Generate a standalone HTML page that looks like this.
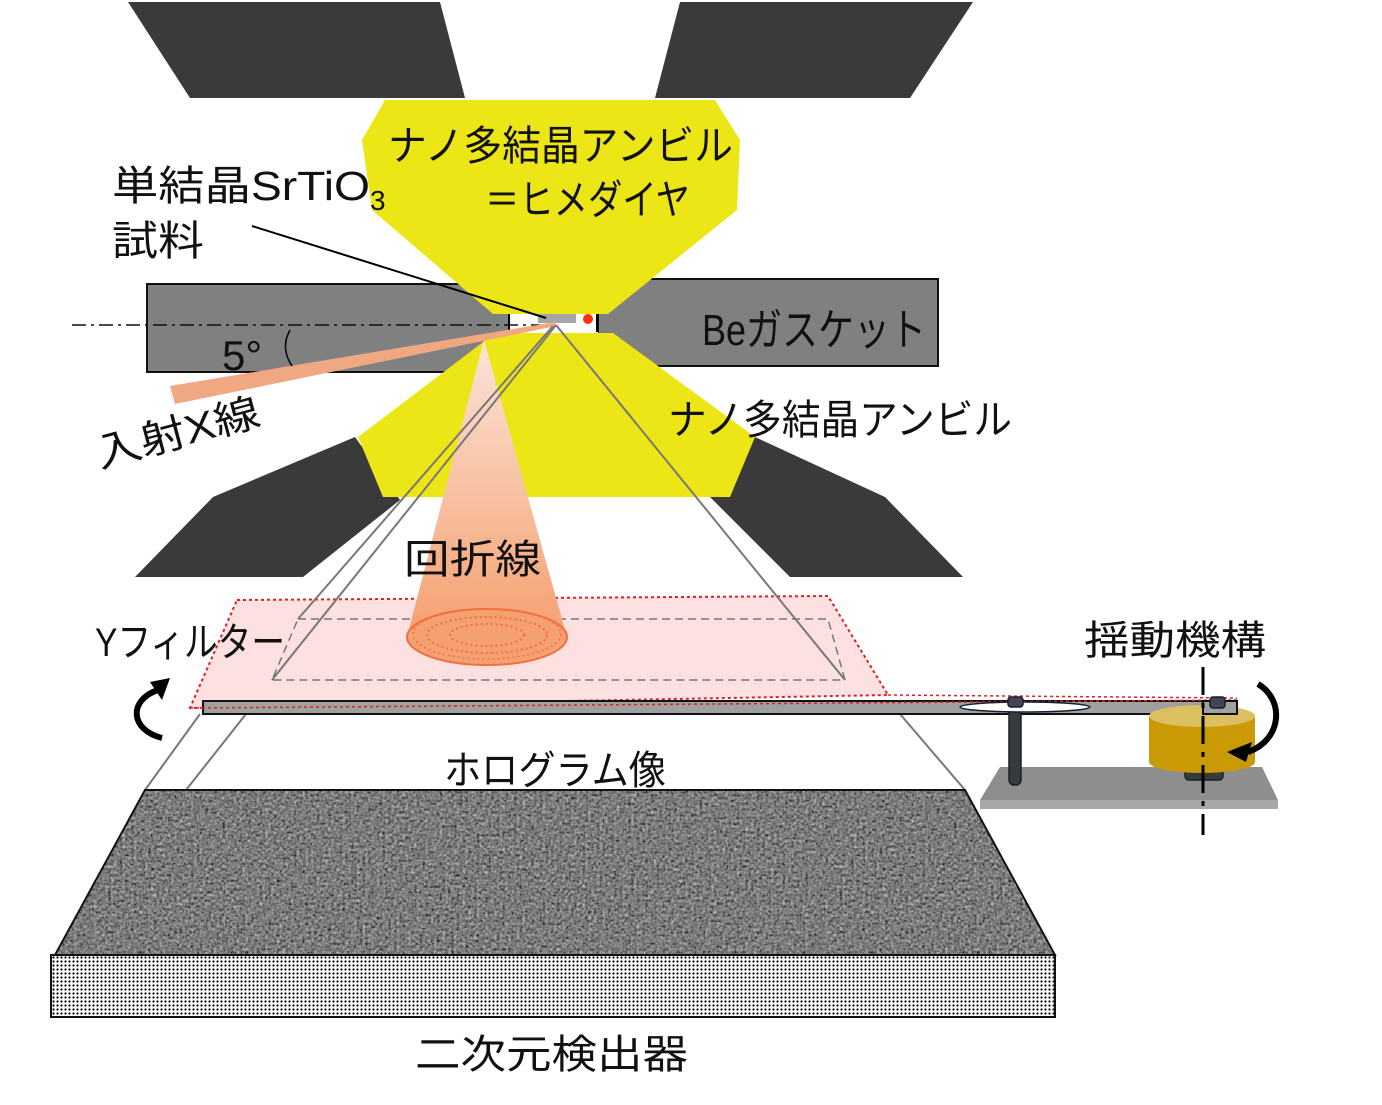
<!DOCTYPE html>
<html><head><meta charset="utf-8"><style>
html,body{margin:0;padding:0;background:#fff}
svg{display:block}
text{font-family:"Liberation Sans","Noto Sans CJK JP",sans-serif;fill:#111}
</style></head><body>
<svg width="1382" height="1105" viewBox="0 0 1382 1105" xmlns="http://www.w3.org/2000/svg">
<defs>
<pattern id="dots" width="4" height="4" patternUnits="userSpaceOnUse"><rect width="4" height="4" fill="#fff"/><circle cx="1.5" cy="1.5" r="1.1" fill="#000"/></pattern>
<filter id="noise" x="0" y="0" width="100%" height="100%"><feTurbulence type="fractalNoise" baseFrequency="0.35" numOctaves="3" seed="3"/><feColorMatrix type="saturate" values="0"/><feComponentTransfer><feFuncR type="linear" slope="1.8" intercept="-0.55"/><feFuncG type="linear" slope="1.8" intercept="-0.55"/><feFuncB type="linear" slope="1.8" intercept="-0.55"/></feComponentTransfer><feComposite in2="SourceGraphic" operator="in"/></filter>
<linearGradient id="cone" x1="0" y1="0" x2="0" y2="1"><stop offset="0" stop-color="#fbe3d8"/><stop offset="1" stop-color="#f5a070"/></linearGradient>
</defs>
<polygon points="128,2 440,2 465,98 190,98" fill="#3a3a3a"/>
<polygon points="680,2 973,2 910,98 655,98" fill="#3a3a3a"/>
<polygon points="213,497 355,437 400,500 303,577 135,577" fill="#3a3a3a"/>
<polygon points="755,437 885,497 963,577 790,577 710,497" fill="#3a3a3a"/>
<rect x="147" y="284" width="363" height="88" fill="#808080" stroke="#111" stroke-width="2"/>
<rect x="598" y="279" width="340" height="87" fill="#808080" stroke="#111" stroke-width="2"/>
<rect x="510" y="313" width="88" height="20" fill="#fff"/>
<line x1="509" y1="314" x2="509" y2="332" stroke="#000" stroke-width="2"/>
<line x1="597" y1="314" x2="597" y2="332" stroke="#000" stroke-width="2"/>
<polygon points="385,100 715,100 740,140 737,210 608,314 493,314 372,210 362,140" fill="#ede616"/>
<polygon points="495,333 613,333 755,437 730,497 383,497 358,437" fill="#ede616"/>
<rect x="538" y="314" width="38" height="9" fill="#a6a6a6"/>
<circle cx="588" cy="319" r="5" fill="#ff3300"/>
<line x1="72" y1="325" x2="540" y2="325" stroke="#111" stroke-width="1.5" stroke-dasharray="14,5,3,5"/>
<polygon points="170,386 175,404 556,326 555,322" fill="#f0a882"/>
<polygon points="237,600 828,596 888,695 190,708" fill="#fde0e0"/>
<polygon points="237,600 828,596 888,695 190,708" fill="none" stroke="#e02020" stroke-width="2" stroke-dasharray="3,3"/>
<polygon points="298,619 828,619 845,680 272,680" fill="none" stroke="#777" stroke-width="1.5" stroke-dasharray="8,5"/>
<polygon points="484,340 407,637 567,637" fill="url(#cone)"/>
<ellipse cx="487" cy="637" rx="80" ry="28" fill="#f5a070" stroke="#f07040" stroke-width="2"/>
<ellipse cx="487" cy="635" rx="60" ry="18" fill="none" stroke="#f07040" stroke-width="2" stroke-dasharray="2,3"/>
<ellipse cx="487" cy="635" rx="37" ry="11" fill="none" stroke="#f07040" stroke-width="2" stroke-dasharray="2,3"/>
<ellipse cx="487" cy="634" rx="74" ry="25" fill="none" stroke="#f07040" stroke-width="1.5" stroke-dasharray="2,3"/>
<g stroke="#777" stroke-width="2" fill="none">
<line x1="556" y1="325" x2="272" y2="680"/>
<line x1="553" y1="326" x2="298" y2="619"/>
<line x1="556" y1="325" x2="845" y2="680"/>
<line x1="246" y1="714" x2="186" y2="790"/>
<line x1="200" y1="714" x2="145" y2="790"/>
<line x1="900" y1="714" x2="965" y2="790"/>
</g>
<line x1="252" y1="226" x2="546" y2="318" stroke="#000" stroke-width="2"/>
<rect x="203" y="701" width="1034" height="13" fill="#a0a0a0" stroke="#111" stroke-width="2"/>
<line x1="190" y1="708" x2="1237" y2="700" stroke="#e02020" stroke-width="1.5" stroke-dasharray="3,3"/>
<line x1="888" y1="695" x2="1237" y2="698" stroke="#e02020" stroke-width="1.5" stroke-dasharray="3,3"/>
<polygon points="145,790 965,790 1055,955 55,955" fill="#5a5a5a"/>
<polygon points="145,790 965,790 1055,955 55,955" fill="#888" filter="url(#noise)"/>
<polygon points="145,790 965,790 1055,955 55,955" fill="none" stroke="#111" stroke-width="2"/>
<rect x="51" y="955" width="1004" height="62" fill="url(#dots)" stroke="#111" stroke-width="2"/>
<polygon points="1000,767 1262,767 1278,800 980,800" fill="#8e8e8e"/>
<rect x="980" y="800" width="298" height="9" fill="#a8a8a8"/>
<rect x="1009" y="705" width="12" height="80" rx="5" fill="#3a3a3a" stroke="#123" stroke-width="1.5"/>
<ellipse cx="1025" cy="707" rx="65" ry="5" fill="#fff" stroke="#123" stroke-width="1.5"/>
<rect x="1008" y="697" width="15" height="10" rx="3" fill="#445" stroke="#123" stroke-width="1.5"/>
<rect x="1185" y="765" width="38" height="15" rx="4" fill="#3a3a3a" stroke="#123" stroke-width="1.5"/>
<path d="M1149,717 L1255,717 L1255,762 A53,11 0 0 1 1149,762 Z" fill="#c99a05"/>
<ellipse cx="1202" cy="716" rx="53" ry="11" fill="#dcbf60"/>
<rect x="1203" y="701" width="34" height="13" fill="#a0a0a0" stroke="#111" stroke-width="2"/>
<rect x="1210" y="697" width="15" height="11" rx="3" fill="#445" stroke="#123" stroke-width="1.5"/>
<line x1="1203" y1="667" x2="1203" y2="835" stroke="#000" stroke-width="3" stroke-dasharray="28,8,5,8"/>
<path d="M1258,684 C1285,700 1282,740 1248,752" fill="none" stroke="#000" stroke-width="6"/>
<polygon points="1227,752 1252,742 1246,762" fill="#000"/>
<path d="M162,738 C130,730 128,700 158,690" fill="none" stroke="#000" stroke-width="6"/>
<polygon points="170,678 150,682 162,700" fill="#000"/>
<text x="388" y="160" font-size="41" textLength="345" lengthAdjust="spacingAndGlyphs">ナノ多結晶アンビル</text>
<text x="485" y="214" font-size="41" textLength="205" lengthAdjust="spacingAndGlyphs">＝ヒメダイヤ</text>
<text x="112" y="200" font-size="41"><tspan textLength="258" lengthAdjust="spacingAndGlyphs">単結晶SrTiO</tspan><tspan font-size="28" dy="10">3</tspan></text>
<text x="112" y="255" font-size="41" textLength="92" lengthAdjust="spacingAndGlyphs">試料</text>
<text x="702" y="345" font-size="44" textLength="224" lengthAdjust="spacingAndGlyphs">Beガスケット</text>
<text x="668" y="434" font-size="41" textLength="344" lengthAdjust="spacingAndGlyphs">ナノ多結晶アンビル</text>
<text x="222" y="370" font-size="42">5°</text>
<path d="M290,330 Q280,348 292,366" fill="none" stroke="#000" stroke-width="1.5"/>
<text x="100" y="468" font-size="40" transform="rotate(-15 100 468)" textLength="168" lengthAdjust="spacingAndGlyphs">入射X線</text>
<text x="404" y="573" font-size="40" textLength="137" lengthAdjust="spacingAndGlyphs">回折線</text>
<text x="95" y="656" font-size="40" textLength="190" lengthAdjust="spacingAndGlyphs">Yフィルター</text>
<text x="1084" y="654" font-size="40" textLength="182" lengthAdjust="spacingAndGlyphs">揺動機構</text>
<text x="444" y="784" font-size="40" textLength="222" lengthAdjust="spacingAndGlyphs">ホログラム像</text>
<text x="415" y="1068" font-size="40" textLength="273" lengthAdjust="spacingAndGlyphs">二次元検出器</text>
</svg>
</body></html>
